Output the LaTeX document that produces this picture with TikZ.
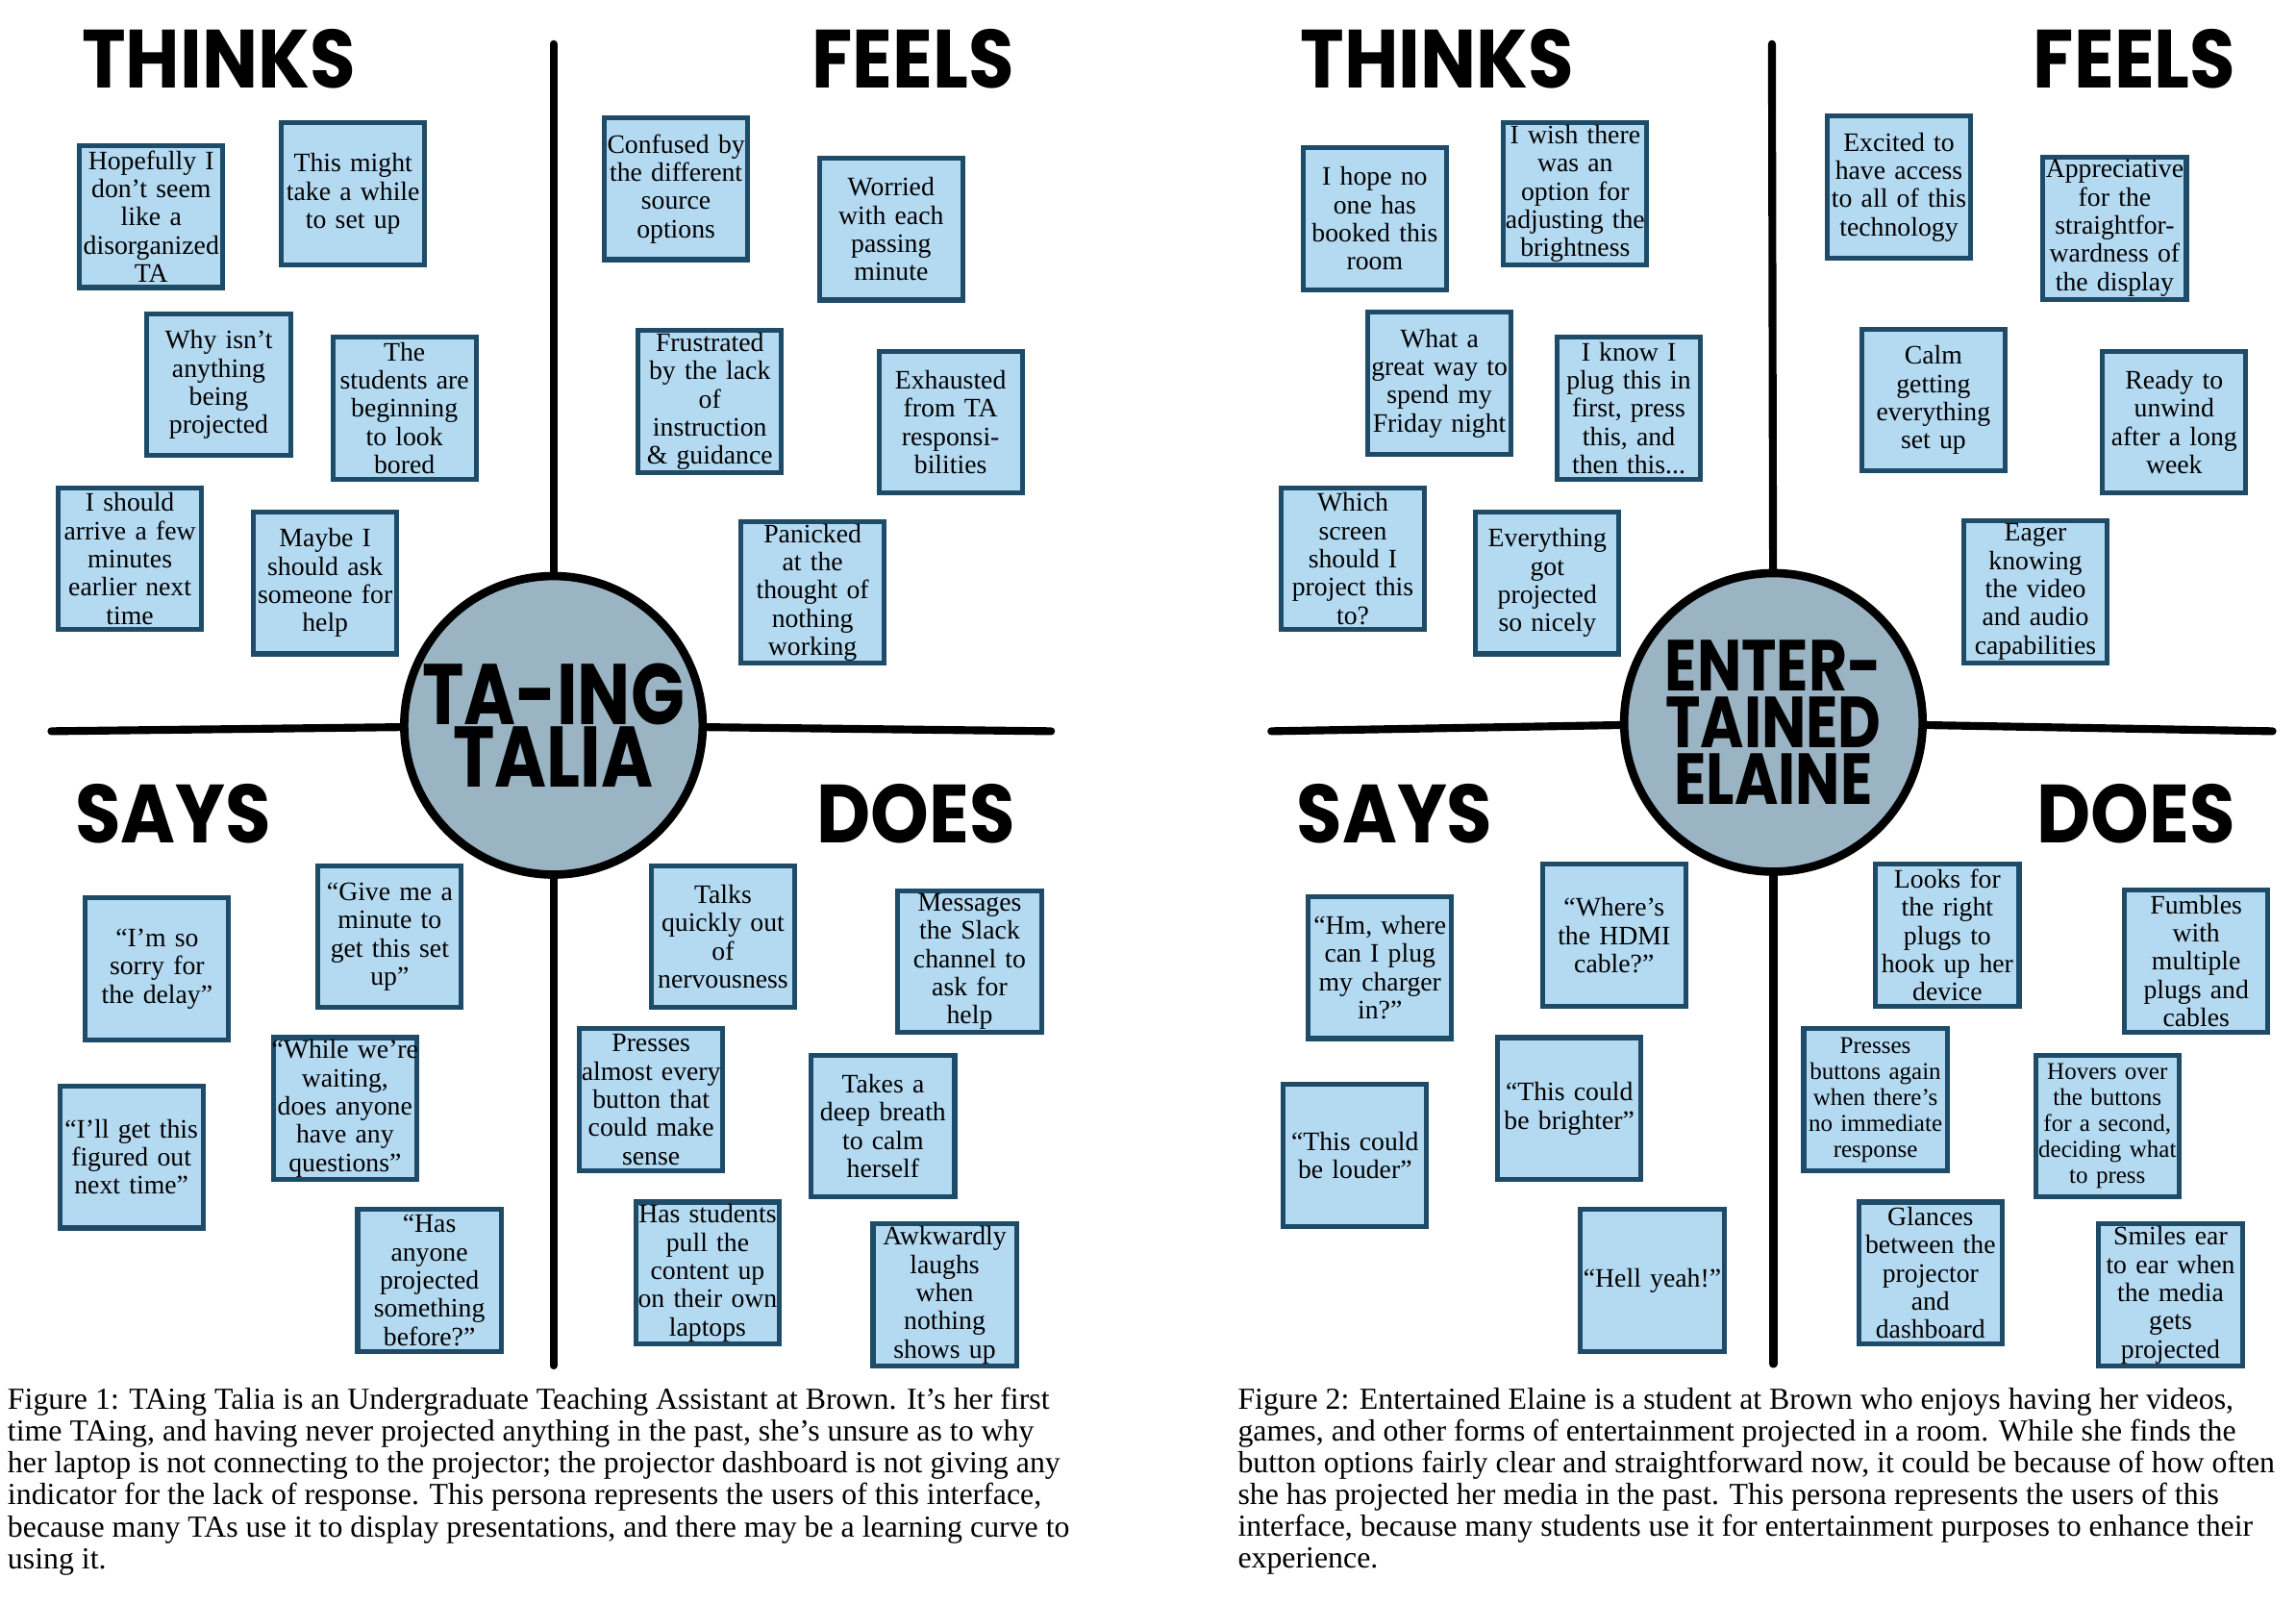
\documentclass[tikz,border=0pt]{standalone}
\usepackage{fontspec}
\setmainfont{Liberation Serif}
\newfontfamily\headfont{Poppins}[UprightFont=* Bold, FakeStretch=0.9]
\newfontfamily\personafont{Poppins}[UprightFont=* Bold, FakeStretch=0.82]
\definecolor{notefill}{HTML}{B4DAF2}
\definecolor{noteline}{HTML}{1D4B68}
\definecolor{personafill}{HTML}{9AB4C4}

\begin{document}
\begin{tikzpicture}[x=0.03cm,y=-0.03cm]
\tikzset{note/.style=
            {draw=noteline,fill=notefill,line width=0.1cm,minimum width=2.93cm,
             minimum height=2.9cm,text width=3.2cm,align=center,inner xsep=-0.15cm,
             inner ysep=0pt,font=\fontsize{15.5}{16.4}\selectfont},
         small note/.style=
            {note,font=\fontsize{14}{15.1}\selectfont},
         head/.style=
            {font=\headfont\fontsize{48}{48}\selectfont,anchor=base,inner sep=0pt},
         persona/.style=
            {circle,draw,line width=0.17cm,fill=personafill,minimum size=6.1cm,
             align=center,inner sep=0pt},
         axis/.style={line width=0.16cm,line cap=round},
         caption/.style=
            {anchor=north west,align=left,inner sep=0pt,
             font=\fontsize{17.8}{18.5}\selectfont}}
\useasboundingbox (0,0) rectangle (1564,1092);

% first persona
\coordinate (lt) at (377,30);
\coordinate (lb) at (377,930);
\coordinate (ll) at (35,498);
\coordinate (lr) at (716,498);
\node[persona,font=\personafont\fontsize{50}{36.6}\selectfont] (talia) at (377,494) {TA-ING\\TALIA};
\draw[axis] (lt) -- (talia);
\draw[axis] (lb) -- (talia);
\draw[axis] (ll) -- (talia);
\draw[axis] (lr) -- (talia);
\node[head] (lthinks) at (149,60) {THINKS};
\node[head] (lfeels) at (622,60) {FEELS};
\node[head] (lsays) at (118,574) {SAYS};
\node[head] (ldoes) at (624,574) {DOES};

\node[note] (lt1) at (103,147.5) {Hopefully I\\don’t seem\\like a\\disorganized\\TA};
\node[note] (lt2) at (240.5,132) {This might\\take a while\\to set up};
\node[note] (lt3) at (149,262) {Why isn’t\\anything\\being\\projected};
\node[note] (lt4) at (275.5,278) {The\\students are\\beginning\\to look\\bored};
\node[note] (lt5) at (88.5,380.5) {I should\\arrive a few\\minutes\\earlier next\\time};
\node[note] (lt6) at (221.5,397) {Maybe I\\should ask\\someone for\\help};

\node[note] (lf1) at (460.5,128.5) {Confused by\\the different\\source\\options};
\node[note] (lf2) at (607,156) {Worried\\with each\\passing\\minute};
\node[note] (lf3) at (483.5,273.5) {Frustrated\\by the lack\\of\\instruction\\\& guidance};
\node[note] (lf4) at (647.5,287.5) {Exhausted\\from TA\\responsi-\\bilities};
\node[note] (lf5) at (553.5,403.5) {Panicked\\at the\\thought of\\nothing\\working};

\node[note] (ls1) at (107,660) {“I’m so\\sorry for\\the delay”};
\node[note] (ls2) at (265.5,638) {“Give me a\\minute to\\get this set\\up”};
\node[note] (ls3) at (235,755) {“While we’re\\waiting,\\does anyone\\have any\\questions”};
\node[note] (ls4) at (89.5,788) {“I’ll get this\\figured out\\next time”};
\node[note] (ls5) at (292.5,872) {“Has\\anyone\\projected\\something\\before?”};

\node[note] (ld1) at (492.5,638) {Talks\\quickly out\\of\\nervousness};
\node[note] (ld2) at (660.5,655) {Messages\\the Slack\\channel to\\ask for\\help};
\node[note] (ld3) at (443.5,749) {Presses\\almost every\\button that\\could make\\sense};
\node[note] (ld4) at (601.5,767) {Takes a\\deep breath\\to calm\\herself};
\node[note] (ld5) at (482,867) {Has students\\pull the\\content up\\on their own\\laptops};
\node[note] (ld6) at (643.5,882) {Awkwardly\\laughs\\when\\nothing\\shows up};

\node[caption] (lcap) at (5,945) {Figure 1: TAing Talia is an Undergraduate Teaching Assistant at Brown. It’s her first\\
time TAing, and having never projected anything in the past, she’s unsure as to why\\
her laptop is not connecting to the projector; the projector dashboard is not giving any\\
indicator for the lack of response. This persona represents the users of this interface,\\
because many TAs use it to display presentations, and there may be a learning curve to\\
using it.};

% second persona
\coordinate (rt) at (1207,30);
\coordinate (rb) at (1208,929);
\coordinate (rl) at (866,498);
\coordinate (rr) at (1548,498);
\node[persona,font=\personafont\fontsize{42}{33.2}\selectfont] (elaine) at (1208,492) {ENTER-\\TAINED\\ELAINE};
\draw[axis] (rt) -- (elaine);
\draw[axis] (rb) -- (elaine);
\draw[axis] (rl) -- (elaine);
\draw[axis] (rr) -- (elaine);
\node[head] (rthinks) at (979,60) {THINKS};
\node[head] (rfeels) at (1454,60) {FEELS};
\node[head] (rsays) at (950,574) {SAYS};
\node[head] (rdoes) at (1455,574) {DOES};

\node[note] (rt1) at (936.5,149) {I hope no\\one has\\booked this\\room};
\node[note] (rt2) at (1073,132) {I wish there\\was an\\option for\\adjusting the\\brightness};
\node[note] (rt3) at (980.5,261) {What a\\great way to\\spend my\\Friday night};
\node[note] (rt4) at (1109.5,278) {I know I\\plug this in\\first, press\\this, and\\then this...};
\node[note] (rt5) at (921.5,380.5) {Which\\screen\\should I\\project this\\to?};
\node[note] (rt6) at (1054,397) {Everything\\got\\projected\\so nicely};

\node[note] (rf1) at (1293.5,127.5) {Excited to\\have access\\to all of this\\technology};
\node[note] (rf2) at (1440.5,155.5) {Appreciative\\for the\\straightfor-\\wardness of\\the display};
\node[note] (rf3) at (1317,272.5) {Calm\\getting\\everything\\set up};
\node[note] (rf4) at (1481,287.5) {Ready to\\unwind\\after a long\\week};
\node[note] (rf5) at (1386.5,403) {Eager\\knowing\\the video\\and audio\\capabilities};

\node[note] (rs1) at (940,659) {“Hm, where\\can I plug\\my charger\\in?”};
\node[note] (rs2) at (1099.5,637) {“Where’s\\the HDMI\\cable?”};
\node[note] (rs3) at (1069,755) {“This could\\be brighter”};
\node[note] (rs4) at (923,787) {“This could\\be louder”};
\node[note] (rs5) at (1125.5,872) {“Hell yeah!”};

\node[note] (rd1) at (1326.5,637) {Looks for\\the right\\plugs to\\hook up her\\device};
\node[note] (rd2) at (1496,654.5) {Fumbles\\with\\multiple\\plugs and\\cables};
\node[small note] (rd3) at (1277.5,749) {Presses\\buttons again\\when there’s\\no immediate\\response};
\node[small note] (rd4) at (1435.5,767) {Hovers over\\the buttons\\for a second,\\deciding what\\to press};
\node[note] (rd5) at (1315,867) {Glances\\between the\\projector\\and\\dashboard};
\node[note] (rd6) at (1478.5,882) {Smiles ear\\to ear when\\the media\\gets\\projected};

\node[caption] (rcap) at (843,945) {Figure 2: Entertained Elaine is a student at Brown who enjoys having her videos,\\
games, and other forms of entertainment projected in a room. While she finds the\\
button options fairly clear and straightforward now, it could be because of how often\\
she has projected her media in the past. This persona represents the users of this\\
interface, because many students use it for entertainment purposes to enhance their\\
experience.};
\end{tikzpicture}
\end{document}
